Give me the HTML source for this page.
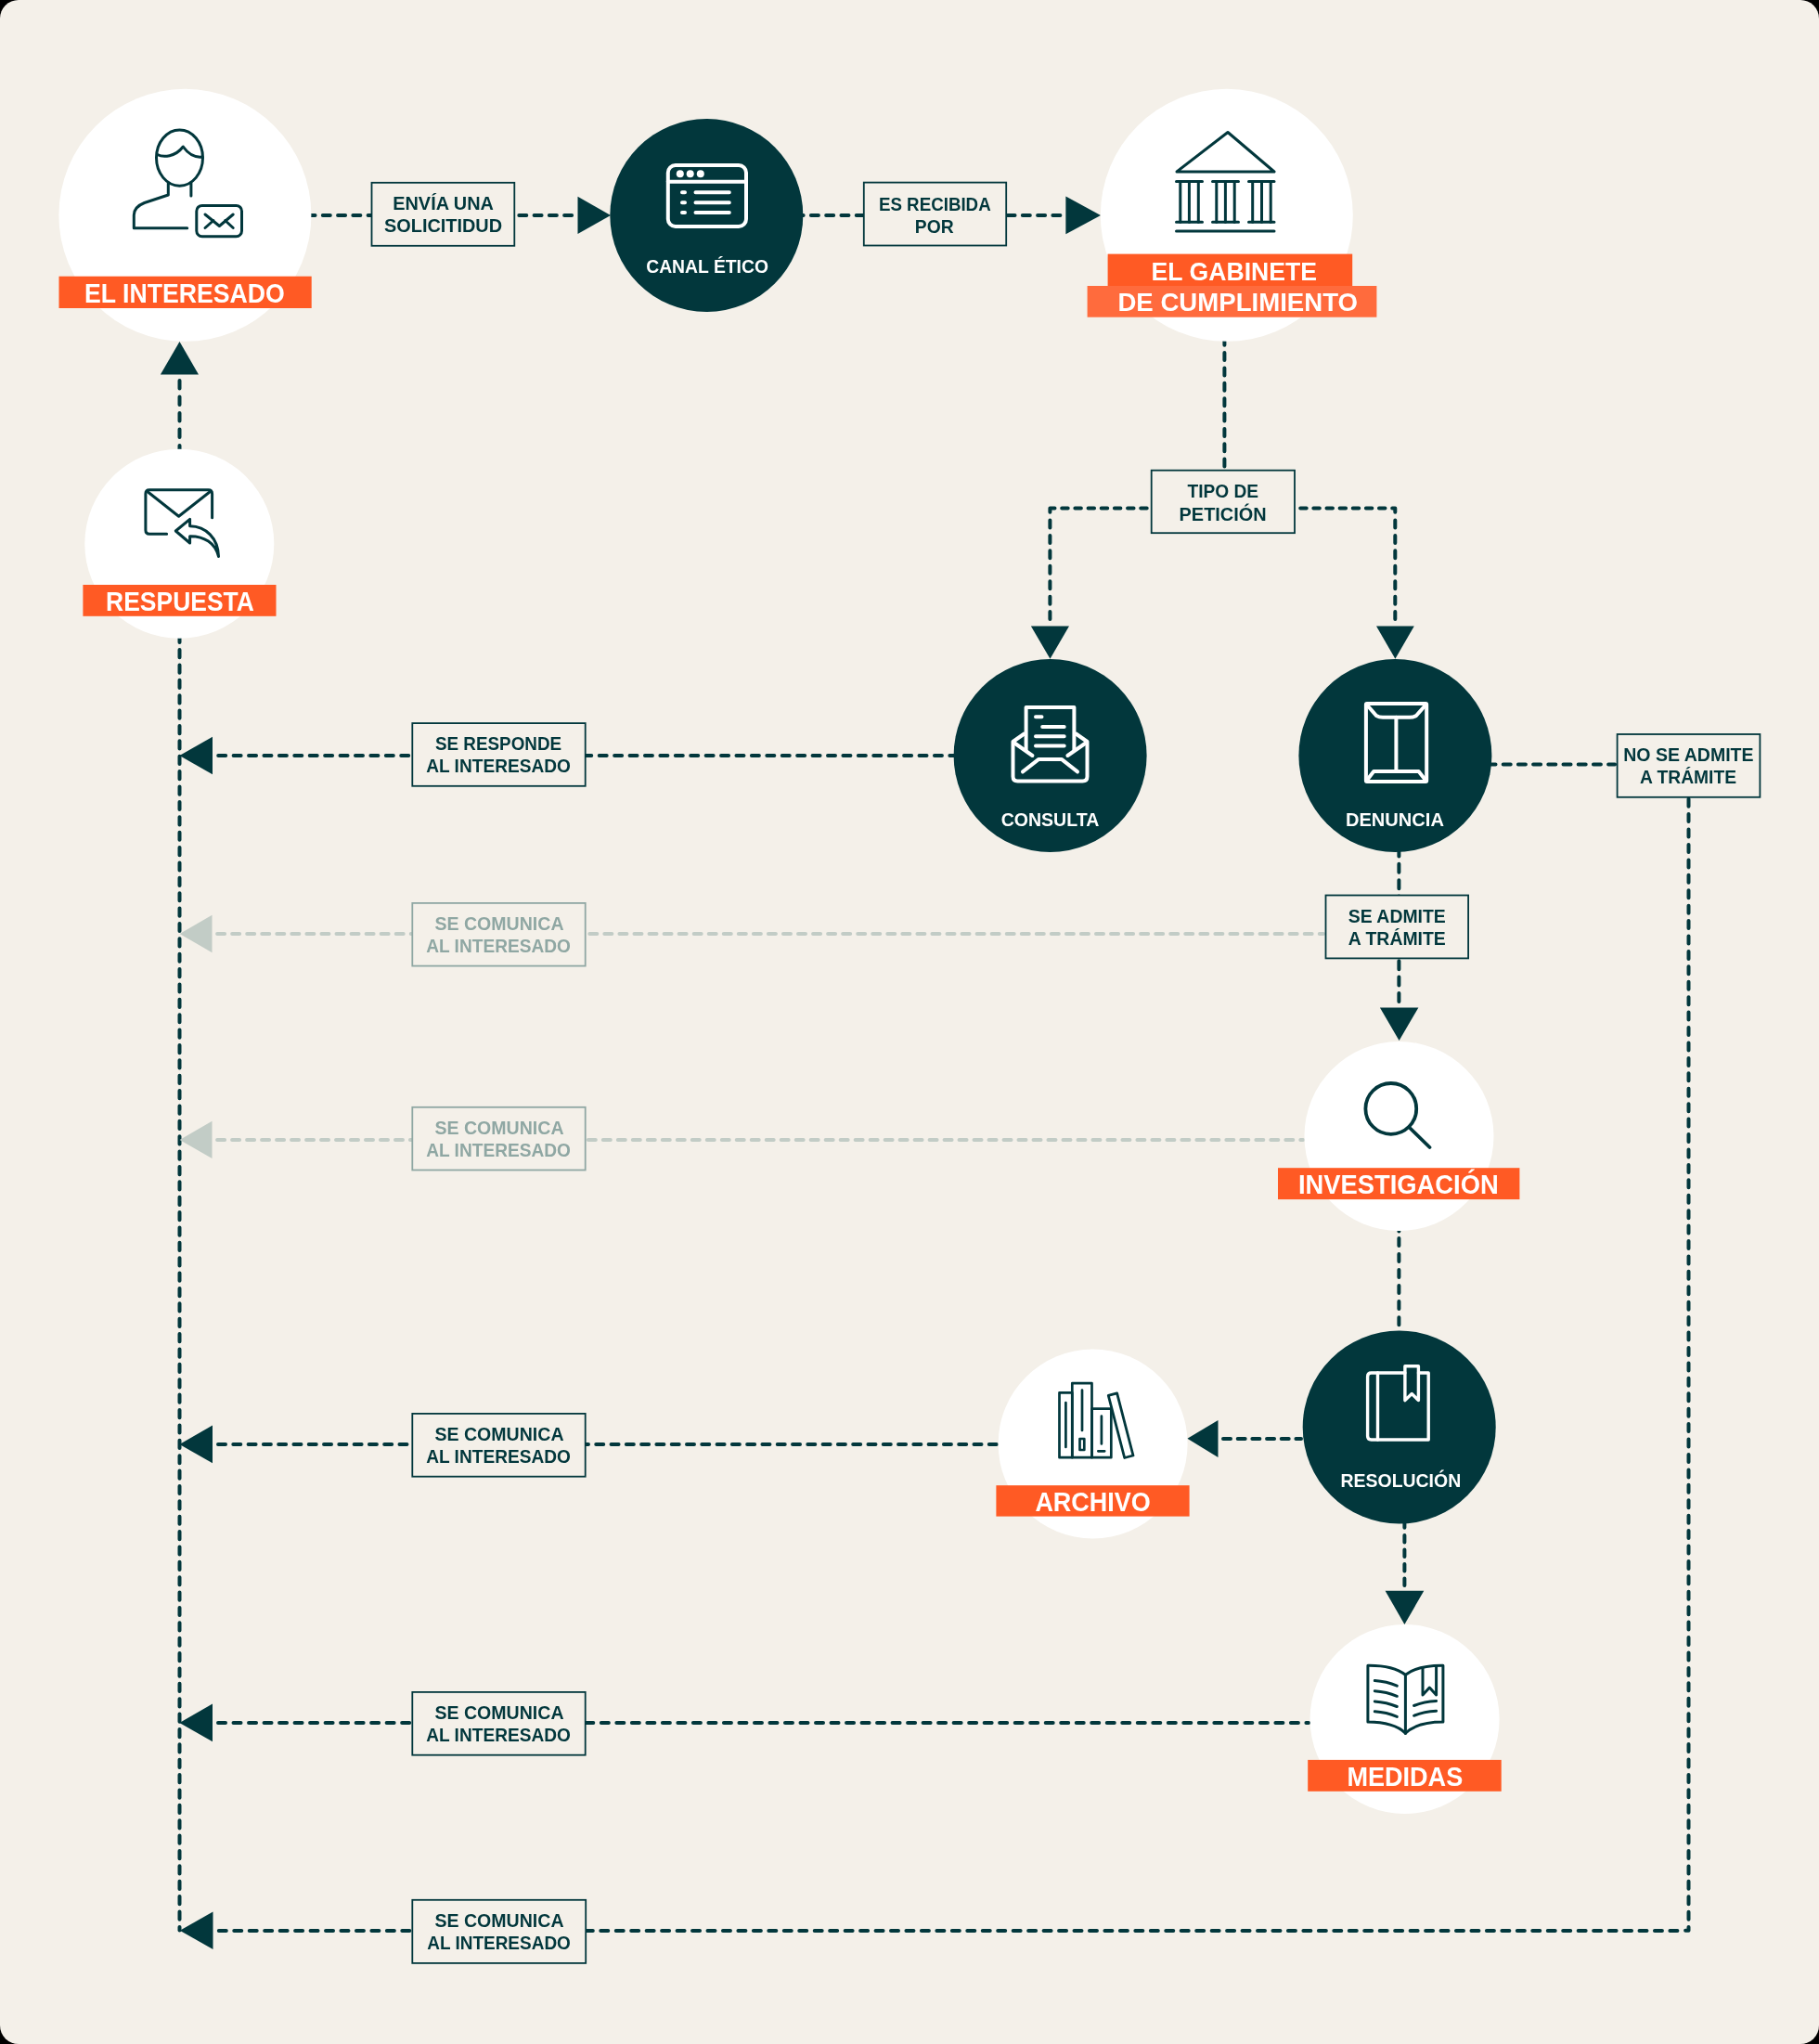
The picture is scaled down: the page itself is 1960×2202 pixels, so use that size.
<!DOCTYPE html>
<html><head><meta charset="utf-8"><style>
html,body{margin:0;padding:0;background:#000;}
#c{position:absolute;left:0;top:0;width:1960px;height:2202px;background:#F4F0E9;border-radius:20px;overflow:hidden;}
svg{position:absolute;left:0;top:0;will-change:transform;}
text{font-family:"Liberation Sans", sans-serif;font-weight:bold;}
</style></head><body><div id="c">
<svg width="1960" height="2202" viewBox="0 0 1960 2202">
<path d="M331.53,232 L339.53,232 M347.80,232 L355.80,232 M364.07,232 L372.07,232 M380.34,232 L388.34,232 M396.61,232 L404.61,232 M412.88,232 L420.88,232 M429.15,232 L437.15,232 M445.42,232 L453.42,232 M461.69,232 L469.69,232 M477.96,232 L485.96,232 M494.23,232 L502.23,232 M510.50,232 L518.50,232 M526.77,232 L534.77,232 M543.04,232 L551.04,232 M559.31,232 L567.31,232 M575.58,232 L583.58,232 M591.85,232 L599.85,232 M608.12,232 L616.12,232" fill="none" stroke="#02373C" stroke-width="4" stroke-linecap="round"/>
<polygon points="622.5,211.8 622.5,252 658,232" fill="#02373C"/>
<path d="M857.62,232 L865.62,232 M873.90,232 L881.90,232 M890.18,232 L898.18,232 M906.46,232 L914.46,232 M922.74,232 L930.74,232 M939.02,232 L947.02,232 M955.30,232 L963.30,232 M971.58,232 L979.58,232 M987.86,232 L995.86,232 M1004.14,232 L1012.14,232 M1020.42,232 L1028.42,232 M1036.70,232 L1044.70,232 M1052.98,232 L1060.98,232 M1069.26,232 L1077.26,232 M1085.54,232 L1093.54,232 M1101.82,232 L1109.82,232 M1118.10,232 L1126.10,232 M1134.38,232 L1142.38,232" fill="none" stroke="#02373C" stroke-width="4" stroke-linecap="round"/>
<polygon points="1148.4,211.5 1148.4,252.3 1186,232" fill="#02373C"/>
<path d="M1319.4,363.74 L1319.4,371.74 M1319.4,380.10 L1319.4,388.10 M1319.4,396.46 L1319.4,404.46 M1319.4,412.82 L1319.4,420.82 M1319.4,429.18 L1319.4,437.18 M1319.4,445.54 L1319.4,453.54 M1319.4,461.90 L1319.4,469.90 M1319.4,478.26 L1319.4,486.26 M1319.4,494.62 L1319.4,502.62" fill="none" stroke="#02373C" stroke-width="4" stroke-linecap="round"/>
<path d="M1144.20,547.5 L1150.70,547.5 M1158.37,547.5 L1164.87,547.5 M1172.54,547.5 L1179.04,547.5 M1186.71,547.5 L1193.21,547.5 M1200.88,547.5 L1207.38,547.5 M1215.05,547.5 L1221.55,547.5 M1229.22,547.5 L1235.72,547.5" fill="none" stroke="#02373C" stroke-width="4" stroke-linecap="round"/>
<path d="M1136.5,547.5 L1131.4,547.5 L1131.4,551.7" fill="none" stroke="#02373C" stroke-width="4" stroke-linecap="round" stroke-linejoin="round"/>
<path d="M1131.4,560.50 L1131.4,568.50 M1131.4,576.93 L1131.4,584.93 M1131.4,593.36 L1131.4,601.36 M1131.4,609.79 L1131.4,617.79 M1131.4,626.22 L1131.4,634.22 M1131.4,642.65 L1131.4,650.65 M1131.4,659.08 L1131.4,667.08" fill="none" stroke="#02373C" stroke-width="4" stroke-linecap="round"/>
<path d="M1401.20,547.5 L1407.70,547.5 M1415.33,547.5 L1421.83,547.5 M1429.46,547.5 L1435.96,547.5 M1443.59,547.5 L1450.09,547.5 M1457.72,547.5 L1464.22,547.5 M1471.85,547.5 L1478.35,547.5 M1485.98,547.5 L1492.48,547.5" fill="none" stroke="#02373C" stroke-width="4" stroke-linecap="round"/>
<path d="M1500.2,547.5 L1503.3,547.5 L1503.3,551.7" fill="none" stroke="#02373C" stroke-width="4" stroke-linecap="round" stroke-linejoin="round"/>
<path d="M1503.3,560.50 L1503.3,568.50 M1503.3,576.93 L1503.3,584.93 M1503.3,593.36 L1503.3,601.36 M1503.3,609.79 L1503.3,617.79 M1503.3,626.22 L1503.3,634.22 M1503.3,642.65 L1503.3,650.65 M1503.3,659.08 L1503.3,667.08" fill="none" stroke="#02373C" stroke-width="4" stroke-linecap="round"/>
<polygon points="1110.9,674.5 1152,674.5 1131.5,709.8" fill="#02373C"/>
<polygon points="1483,674.5 1523.8,674.5 1503.4,709.8" fill="#02373C"/>
<path d="M193.5,409.90 L193.5,418.40 M193.5,427.40 L193.5,435.90 M193.5,444.90 L193.5,453.40 M193.5,462.40 L193.5,470.90 M193.5,479.90 L193.5,488.00" fill="none" stroke="#02373C" stroke-width="4" stroke-linecap="round"/>
<polygon points="172.9,403.5 214,403.5 193.5,367.9" fill="#02373C"/>
<path d="M193.5,683.72 L193.5,691.92 M193.5,700.10 L193.5,708.30 M193.5,716.48 L193.5,724.68 M193.5,732.86 L193.5,741.06 M193.5,749.23 L193.5,757.43 M193.5,765.61 L193.5,773.81 M193.5,781.99 L193.5,790.19 M193.5,798.37 L193.5,806.57 M193.5,814.75 L193.5,822.95 M193.5,831.12 L193.5,839.32 M193.5,847.50 L193.5,855.70 M193.5,863.88 L193.5,872.08 M193.5,880.26 L193.5,888.46 M193.5,896.64 L193.5,904.84 M193.5,913.01 L193.5,921.21 M193.5,929.39 L193.5,937.59 M193.5,945.77 L193.5,953.97 M193.5,962.15 L193.5,970.35 M193.5,978.53 L193.5,986.73 M193.5,994.90 L193.5,1003.10 M193.5,1011.28 L193.5,1019.48 M193.5,1027.66 L193.5,1035.86 M193.5,1044.04 L193.5,1052.24 M193.5,1060.42 L193.5,1068.62 M193.5,1076.79 L193.5,1084.99 M193.5,1093.17 L193.5,1101.37 M193.5,1109.55 L193.5,1117.75 M193.5,1125.93 L193.5,1134.13 M193.5,1142.31 L193.5,1150.51 M193.5,1158.68 L193.5,1166.88 M193.5,1175.06 L193.5,1183.26 M193.5,1191.44 L193.5,1199.64 M193.5,1207.82 L193.5,1216.02 M193.5,1224.20 L193.5,1232.40 M193.5,1240.57 L193.5,1248.77 M193.5,1256.95 L193.5,1265.15 M193.5,1273.33 L193.5,1281.53 M193.5,1289.71 L193.5,1297.91 M193.5,1306.09 L193.5,1314.29 M193.5,1322.46 L193.5,1330.66 M193.5,1338.84 L193.5,1347.04 M193.5,1355.22 L193.5,1363.42 M193.5,1371.60 L193.5,1379.80 M193.5,1387.98 L193.5,1396.18 M193.5,1404.35 L193.5,1412.55 M193.5,1420.73 L193.5,1428.93 M193.5,1437.11 L193.5,1445.31 M193.5,1453.49 L193.5,1461.69 M193.5,1469.87 L193.5,1478.07 M193.5,1486.24 L193.5,1494.44 M193.5,1502.62 L193.5,1510.82 M193.5,1519.00 L193.5,1527.20 M193.5,1535.38 L193.5,1543.58 M193.5,1551.76 L193.5,1559.96 M193.5,1568.13 L193.5,1576.33 M193.5,1584.51 L193.5,1592.71 M193.5,1600.89 L193.5,1609.09 M193.5,1617.27 L193.5,1625.47 M193.5,1633.65 L193.5,1641.85 M193.5,1650.02 L193.5,1658.22 M193.5,1666.40 L193.5,1674.60 M193.5,1682.78 L193.5,1690.98 M193.5,1699.16 L193.5,1707.36 M193.5,1715.54 L193.5,1723.74 M193.5,1731.91 L193.5,1740.11 M193.5,1748.29 L193.5,1756.49 M193.5,1764.67 L193.5,1772.87 M193.5,1781.05 L193.5,1789.25 M193.5,1797.43 L193.5,1805.63 M193.5,1813.80 L193.5,1822.00 M193.5,1830.18 L193.5,1838.38 M193.5,1846.56 L193.5,1854.76 M193.5,1862.94 L193.5,1871.14 M193.5,1879.32 L193.5,1887.52 M193.5,1895.69 L193.5,1903.89 M193.5,1912.07 L193.5,1920.27 M193.5,1928.45 L193.5,1936.65 M193.5,1944.83 L193.5,1953.03 M193.5,1961.21 L193.5,1969.41 M193.5,1977.58 L193.5,1985.78 M193.5,1993.96 L193.5,2002.16 M193.5,2010.34 L193.5,2018.54 M193.5,2026.72 L193.5,2034.92 M193.5,2043.10 L193.5,2051.30 M193.5,2059.47 L193.5,2067.67" fill="none" stroke="#02373C" stroke-width="4" stroke-linecap="round"/>
<path d="M193.5,2075.9 L193.5,2079.4" fill="none" stroke="#02373C" stroke-width="4" stroke-linecap="round" stroke-linejoin="round"/>
<path d="M235.20,813.9 L243.20,813.9 M251.62,813.9 L259.62,813.9 M268.04,813.9 L276.04,813.9 M284.46,813.9 L292.46,813.9 M300.88,813.9 L308.88,813.9 M317.30,813.9 L325.30,813.9 M333.72,813.9 L341.72,813.9 M350.14,813.9 L358.14,813.9 M366.56,813.9 L374.56,813.9 M382.98,813.9 L390.98,813.9 M399.40,813.9 L407.40,813.9 M415.82,813.9 L423.82,813.9 M432.24,813.9 L440.24,813.9 M448.66,813.9 L456.66,813.9 M465.08,813.9 L473.08,813.9 M481.50,813.9 L489.50,813.9 M497.92,813.9 L505.92,813.9 M514.34,813.9 L522.34,813.9 M530.76,813.9 L538.76,813.9 M547.18,813.9 L555.18,813.9 M563.60,813.9 L571.60,813.9 M580.02,813.9 L588.02,813.9 M596.44,813.9 L604.44,813.9 M612.86,813.9 L620.86,813.9 M629.28,813.9 L637.28,813.9 M645.70,813.9 L653.70,813.9 M662.12,813.9 L670.12,813.9 M678.54,813.9 L686.54,813.9 M694.96,813.9 L702.96,813.9 M711.38,813.9 L719.38,813.9 M727.80,813.9 L735.80,813.9 M744.22,813.9 L752.22,813.9 M760.64,813.9 L768.64,813.9 M777.06,813.9 L785.06,813.9 M793.48,813.9 L801.48,813.9 M809.90,813.9 L817.90,813.9 M826.32,813.9 L834.32,813.9 M842.74,813.9 L850.74,813.9 M859.16,813.9 L867.16,813.9 M875.58,813.9 L883.58,813.9 M892.00,813.9 L900.00,813.9 M908.42,813.9 L916.42,813.9 M924.84,813.9 L932.84,813.9 M941.26,813.9 L949.26,813.9 M957.68,813.9 L965.68,813.9 M974.10,813.9 L982.10,813.9 M990.52,813.9 L998.52,813.9 M1006.94,813.9 L1014.94,813.9 M1023.36,813.9 L1028.00,813.9" fill="none" stroke="#02373C" stroke-width="4" stroke-linecap="round"/>
<polygon points="229,793.7 229,834.3 193.4,814" fill="#02373C"/>
<path d="M1607.00,823.5 L1611.50,823.5 M1619.70,823.5 L1627.70,823.5 M1635.90,823.5 L1643.90,823.5 M1652.10,823.5 L1660.10,823.5 M1668.30,823.5 L1676.30,823.5 M1684.50,823.5 L1692.50,823.5 M1700.70,823.5 L1708.70,823.5 M1716.90,823.5 L1724.90,823.5 M1733.10,823.5 L1740.00,823.5" fill="none" stroke="#02373C" stroke-width="4" stroke-linecap="round"/>
<path d="M1819.5,860.68 L1819.5,868.68 M1819.5,877.10 L1819.5,885.10 M1819.5,893.52 L1819.5,901.52 M1819.5,909.95 L1819.5,917.95 M1819.5,926.38 L1819.5,934.38 M1819.5,942.80 L1819.5,950.80 M1819.5,959.23 L1819.5,967.23 M1819.5,975.65 L1819.5,983.65 M1819.5,992.08 L1819.5,1000.08 M1819.5,1008.50 L1819.5,1016.50 M1819.5,1024.93 L1819.5,1032.93 M1819.5,1041.35 L1819.5,1049.35 M1819.5,1057.78 L1819.5,1065.78 M1819.5,1074.20 L1819.5,1082.20 M1819.5,1090.62 L1819.5,1098.62 M1819.5,1107.05 L1819.5,1115.05 M1819.5,1123.47 L1819.5,1131.47 M1819.5,1139.90 L1819.5,1147.90 M1819.5,1156.33 L1819.5,1164.33 M1819.5,1172.75 L1819.5,1180.75 M1819.5,1189.17 L1819.5,1197.17 M1819.5,1205.60 L1819.5,1213.60 M1819.5,1222.03 L1819.5,1230.03 M1819.5,1238.45 L1819.5,1246.45 M1819.5,1254.88 L1819.5,1262.88 M1819.5,1271.30 L1819.5,1279.30 M1819.5,1287.72 L1819.5,1295.72 M1819.5,1304.15 L1819.5,1312.15 M1819.5,1320.58 L1819.5,1328.58 M1819.5,1337.00 L1819.5,1345.00 M1819.5,1353.43 L1819.5,1361.43 M1819.5,1369.85 L1819.5,1377.85 M1819.5,1386.28 L1819.5,1394.28 M1819.5,1402.70 L1819.5,1410.70 M1819.5,1419.12 L1819.5,1427.12 M1819.5,1435.55 L1819.5,1443.55 M1819.5,1451.97 L1819.5,1459.97 M1819.5,1468.40 L1819.5,1476.40 M1819.5,1484.83 L1819.5,1492.83 M1819.5,1501.25 L1819.5,1509.25 M1819.5,1517.68 L1819.5,1525.68 M1819.5,1534.10 L1819.5,1542.10 M1819.5,1550.53 L1819.5,1558.53 M1819.5,1566.95 L1819.5,1574.95 M1819.5,1583.38 L1819.5,1591.38 M1819.5,1599.80 L1819.5,1607.80 M1819.5,1616.22 L1819.5,1624.22 M1819.5,1632.65 L1819.5,1640.65 M1819.5,1649.08 L1819.5,1657.08 M1819.5,1665.50 L1819.5,1673.50 M1819.5,1681.93 L1819.5,1689.93 M1819.5,1698.35 L1819.5,1706.35 M1819.5,1714.78 L1819.5,1722.78 M1819.5,1731.20 L1819.5,1739.20 M1819.5,1747.62 L1819.5,1755.62 M1819.5,1764.05 L1819.5,1772.05 M1819.5,1780.47 L1819.5,1788.47 M1819.5,1796.90 L1819.5,1804.90 M1819.5,1813.33 L1819.5,1821.33 M1819.5,1829.75 L1819.5,1837.75 M1819.5,1846.18 L1819.5,1854.18 M1819.5,1862.60 L1819.5,1870.60 M1819.5,1879.03 L1819.5,1887.03 M1819.5,1895.45 L1819.5,1903.45 M1819.5,1911.88 L1819.5,1919.88 M1819.5,1928.30 L1819.5,1936.30 M1819.5,1944.72 L1819.5,1952.72 M1819.5,1961.15 L1819.5,1969.15 M1819.5,1977.58 L1819.5,1985.58 M1819.5,1994.00 L1819.5,2002.00 M1819.5,2010.43 L1819.5,2018.43 M1819.5,2026.85 L1819.5,2034.85 M1819.5,2043.28 L1819.5,2051.28 M1819.5,2059.70 L1819.5,2067.70" fill="none" stroke="#02373C" stroke-width="4" stroke-linecap="round"/>
<path d="M1819.5,2075.9 L1819.5,2079.8 L1816.1,2079.8" fill="none" stroke="#02373C" stroke-width="4" stroke-linecap="round" stroke-linejoin="round"/>
<path d="M235.80,2079.9 L243.80,2079.9 M252.26,2079.9 L260.26,2079.9 M268.72,2079.9 L276.72,2079.9 M285.18,2079.9 L293.18,2079.9 M301.64,2079.9 L309.64,2079.9 M318.10,2079.9 L326.10,2079.9 M334.55,2079.9 L342.55,2079.9 M351.01,2079.9 L359.01,2079.9 M367.47,2079.9 L375.47,2079.9 M383.93,2079.9 L391.93,2079.9 M400.39,2079.9 L408.39,2079.9 M416.85,2079.9 L424.85,2079.9 M433.31,2079.9 L441.31,2079.9 M449.77,2079.9 L457.77,2079.9 M466.23,2079.9 L474.23,2079.9 M482.69,2079.9 L490.69,2079.9 M499.14,2079.9 L507.14,2079.9 M515.60,2079.9 L523.60,2079.9 M532.06,2079.9 L540.06,2079.9 M548.52,2079.9 L556.52,2079.9 M564.98,2079.9 L572.98,2079.9 M581.44,2079.9 L589.44,2079.9 M597.90,2079.9 L605.90,2079.9 M614.36,2079.9 L622.36,2079.9 M630.82,2079.9 L638.82,2079.9 M647.27,2079.9 L655.27,2079.9 M663.73,2079.9 L671.73,2079.9 M680.19,2079.9 L688.19,2079.9 M696.65,2079.9 L704.65,2079.9 M713.11,2079.9 L721.11,2079.9 M729.57,2079.9 L737.57,2079.9 M746.03,2079.9 L754.03,2079.9 M762.49,2079.9 L770.49,2079.9 M778.95,2079.9 L786.95,2079.9 M795.41,2079.9 L803.41,2079.9 M811.87,2079.9 L819.87,2079.9 M828.32,2079.9 L836.32,2079.9 M844.78,2079.9 L852.78,2079.9 M861.24,2079.9 L869.24,2079.9 M877.70,2079.9 L885.70,2079.9 M894.16,2079.9 L902.16,2079.9 M910.62,2079.9 L918.62,2079.9 M927.08,2079.9 L935.08,2079.9 M943.54,2079.9 L951.54,2079.9 M960.00,2079.9 L968.00,2079.9 M976.45,2079.9 L984.45,2079.9 M992.91,2079.9 L1000.91,2079.9 M1009.37,2079.9 L1017.37,2079.9 M1025.83,2079.9 L1033.83,2079.9 M1042.29,2079.9 L1050.29,2079.9 M1058.75,2079.9 L1066.75,2079.9 M1075.21,2079.9 L1083.21,2079.9 M1091.67,2079.9 L1099.67,2079.9 M1108.13,2079.9 L1116.13,2079.9 M1124.59,2079.9 L1132.59,2079.9 M1141.05,2079.9 L1149.05,2079.9 M1157.50,2079.9 L1165.50,2079.9 M1173.96,2079.9 L1181.96,2079.9 M1190.42,2079.9 L1198.42,2079.9 M1206.88,2079.9 L1214.88,2079.9 M1223.34,2079.9 L1231.34,2079.9 M1239.80,2079.9 L1247.80,2079.9 M1256.26,2079.9 L1264.26,2079.9 M1272.72,2079.9 L1280.72,2079.9 M1289.18,2079.9 L1297.18,2079.9 M1305.63,2079.9 L1313.63,2079.9 M1322.09,2079.9 L1330.09,2079.9 M1338.55,2079.9 L1346.55,2079.9 M1355.01,2079.9 L1363.01,2079.9 M1371.47,2079.9 L1379.47,2079.9 M1387.93,2079.9 L1395.93,2079.9 M1404.39,2079.9 L1412.39,2079.9 M1420.85,2079.9 L1428.85,2079.9 M1437.31,2079.9 L1445.31,2079.9 M1453.77,2079.9 L1461.77,2079.9 M1470.22,2079.9 L1478.22,2079.9 M1486.68,2079.9 L1494.68,2079.9 M1503.14,2079.9 L1511.14,2079.9 M1519.60,2079.9 L1527.60,2079.9 M1536.06,2079.9 L1544.06,2079.9 M1552.52,2079.9 L1560.52,2079.9 M1568.98,2079.9 L1576.98,2079.9 M1585.44,2079.9 L1593.44,2079.9 M1601.90,2079.9 L1609.90,2079.9 M1618.36,2079.9 L1626.36,2079.9 M1634.81,2079.9 L1642.81,2079.9 M1651.27,2079.9 L1659.27,2079.9 M1667.73,2079.9 L1675.73,2079.9 M1684.19,2079.9 L1692.19,2079.9 M1700.65,2079.9 L1708.65,2079.9 M1717.11,2079.9 L1725.11,2079.9 M1733.57,2079.9 L1741.57,2079.9 M1750.03,2079.9 L1758.03,2079.9 M1766.49,2079.9 L1774.49,2079.9 M1782.95,2079.9 L1790.95,2079.9 M1799.40,2079.9 L1807.40,2079.9" fill="none" stroke="#02373C" stroke-width="4" stroke-linecap="round"/>
<polygon points="229.5,2059.5 229.5,2100.1 193.8,2079.8" fill="#02373C"/>
<path d="M1507.4,913.41 L1507.4,922.41 M1507.4,930.80 L1507.4,939.80 M1507.4,948.19 L1507.4,957.19 M1507.4,965.58 L1507.4,974.58 M1507.4,982.97 L1507.4,991.97 M1507.4,1000.36 L1507.4,1009.36 M1507.4,1017.75 L1507.4,1026.75 M1507.4,1035.14 L1507.4,1044.14 M1507.4,1052.53 L1507.4,1061.53 M1507.4,1069.92 L1507.4,1078.92" fill="none" stroke="#02373C" stroke-width="4" stroke-linecap="round"/>
<polygon points="1486.9,1085.5 1528.4,1085.5 1507.6,1121.1" fill="#02373C"/>
<path d="M234.10,1006 L242.10,1006 M250.15,1006 L258.15,1006 M266.20,1006 L274.20,1006 M282.25,1006 L290.25,1006 M298.30,1006 L306.30,1006 M314.35,1006 L322.35,1006 M330.39,1006 L338.39,1006 M346.44,1006 L354.44,1006 M362.49,1006 L370.49,1006 M378.54,1006 L386.54,1006 M394.59,1006 L402.59,1006 M410.64,1006 L418.64,1006 M426.69,1006 L434.69,1006 M442.74,1006 L450.74,1006 M458.79,1006 L466.79,1006 M474.83,1006 L482.83,1006 M490.88,1006 L498.88,1006 M506.93,1006 L514.93,1006 M522.98,1006 L530.98,1006 M539.03,1006 L547.03,1006 M555.08,1006 L563.08,1006 M571.13,1006 L579.13,1006 M587.18,1006 L595.18,1006 M603.23,1006 L611.23,1006 M619.28,1006 L627.28,1006 M635.32,1006 L643.32,1006 M651.37,1006 L659.37,1006 M667.42,1006 L675.42,1006 M683.47,1006 L691.47,1006 M699.52,1006 L707.52,1006 M715.57,1006 L723.57,1006 M731.62,1006 L739.62,1006 M747.67,1006 L755.67,1006 M763.72,1006 L771.72,1006 M779.77,1006 L787.77,1006 M795.82,1006 L803.82,1006 M811.86,1006 L819.86,1006 M827.91,1006 L835.91,1006 M843.96,1006 L851.96,1006 M860.01,1006 L868.01,1006 M876.06,1006 L884.06,1006 M892.11,1006 L900.11,1006 M908.16,1006 L916.16,1006 M924.21,1006 L932.21,1006 M940.26,1006 L948.26,1006 M956.30,1006 L964.30,1006 M972.35,1006 L980.35,1006 M988.40,1006 L996.40,1006 M1004.45,1006 L1012.45,1006 M1020.50,1006 L1028.50,1006 M1036.55,1006 L1044.55,1006 M1052.60,1006 L1060.60,1006 M1068.65,1006 L1076.65,1006 M1084.70,1006 L1092.70,1006 M1100.75,1006 L1108.75,1006 M1116.79,1006 L1124.79,1006 M1132.84,1006 L1140.84,1006 M1148.89,1006 L1156.89,1006 M1164.94,1006 L1172.94,1006 M1180.99,1006 L1188.99,1006 M1197.04,1006 L1205.04,1006 M1213.09,1006 L1221.09,1006 M1229.14,1006 L1237.14,1006 M1245.19,1006 L1253.19,1006 M1261.24,1006 L1269.24,1006 M1277.28,1006 L1285.28,1006 M1293.33,1006 L1301.33,1006 M1309.38,1006 L1317.38,1006 M1325.43,1006 L1333.43,1006 M1341.48,1006 L1349.48,1006 M1357.53,1006 L1365.53,1006 M1373.58,1006 L1381.58,1006 M1389.63,1006 L1397.63,1006 M1405.68,1006 L1413.68,1006 M1421.73,1006 L1426.00,1006" fill="none" stroke="#C2CCC6" stroke-width="4" stroke-linecap="round"/>
<polygon points="228.5,985.8 228.5,1026.2 193.6,1006" fill="#C2CCC6"/>
<path d="M234.10,1227.9 L242.10,1227.9 M250.09,1227.9 L258.09,1227.9 M266.08,1227.9 L274.08,1227.9 M282.07,1227.9 L290.07,1227.9 M298.06,1227.9 L306.06,1227.9 M314.05,1227.9 L322.05,1227.9 M330.03,1227.9 L338.03,1227.9 M346.02,1227.9 L354.02,1227.9 M362.01,1227.9 L370.01,1227.9 M378.00,1227.9 L386.00,1227.9 M393.99,1227.9 L401.99,1227.9 M409.98,1227.9 L417.98,1227.9 M425.97,1227.9 L433.97,1227.9 M441.96,1227.9 L449.96,1227.9 M457.95,1227.9 L465.95,1227.9 M473.94,1227.9 L481.94,1227.9 M489.92,1227.9 L497.92,1227.9 M505.91,1227.9 L513.91,1227.9 M521.90,1227.9 L529.90,1227.9 M537.89,1227.9 L545.89,1227.9 M553.88,1227.9 L561.88,1227.9 M569.87,1227.9 L577.87,1227.9 M585.86,1227.9 L593.86,1227.9 M601.85,1227.9 L609.85,1227.9 M617.84,1227.9 L625.84,1227.9 M633.83,1227.9 L641.83,1227.9 M649.81,1227.9 L657.81,1227.9 M665.80,1227.9 L673.80,1227.9 M681.79,1227.9 L689.79,1227.9 M697.78,1227.9 L705.78,1227.9 M713.77,1227.9 L721.77,1227.9 M729.76,1227.9 L737.76,1227.9 M745.75,1227.9 L753.75,1227.9 M761.74,1227.9 L769.74,1227.9 M777.73,1227.9 L785.73,1227.9 M793.72,1227.9 L801.72,1227.9 M809.70,1227.9 L817.70,1227.9 M825.69,1227.9 L833.69,1227.9 M841.68,1227.9 L849.68,1227.9 M857.67,1227.9 L865.67,1227.9 M873.66,1227.9 L881.66,1227.9 M889.65,1227.9 L897.65,1227.9 M905.64,1227.9 L913.64,1227.9 M921.63,1227.9 L929.63,1227.9 M937.62,1227.9 L945.62,1227.9 M953.61,1227.9 L961.61,1227.9 M969.59,1227.9 L977.59,1227.9 M985.58,1227.9 L993.58,1227.9 M1001.57,1227.9 L1009.57,1227.9 M1017.56,1227.9 L1025.56,1227.9 M1033.55,1227.9 L1041.55,1227.9 M1049.54,1227.9 L1057.54,1227.9 M1065.53,1227.9 L1073.53,1227.9 M1081.52,1227.9 L1089.52,1227.9 M1097.51,1227.9 L1105.51,1227.9 M1113.50,1227.9 L1121.50,1227.9 M1129.48,1227.9 L1137.48,1227.9 M1145.47,1227.9 L1153.47,1227.9 M1161.46,1227.9 L1169.46,1227.9 M1177.45,1227.9 L1185.45,1227.9 M1193.44,1227.9 L1201.44,1227.9 M1209.43,1227.9 L1217.43,1227.9 M1225.42,1227.9 L1233.42,1227.9 M1241.41,1227.9 L1249.41,1227.9 M1257.40,1227.9 L1265.40,1227.9 M1273.38,1227.9 L1281.38,1227.9 M1289.37,1227.9 L1297.37,1227.9 M1305.36,1227.9 L1313.36,1227.9 M1321.35,1227.9 L1329.35,1227.9 M1337.34,1227.9 L1345.34,1227.9 M1353.33,1227.9 L1361.33,1227.9 M1369.32,1227.9 L1377.32,1227.9 M1385.31,1227.9 L1393.31,1227.9 M1401.30,1227.9 L1404.00,1227.9" fill="none" stroke="#C2CCC6" stroke-width="4" stroke-linecap="round"/>
<polygon points="228.5,1207.7 228.5,1248.1 193.6,1227.9" fill="#C2CCC6"/>
<path d="M1507.4,1326.49 L1507.4,1326.49 M1507.4,1334.00 L1507.4,1342.00 M1507.4,1351.03 L1507.4,1359.03 M1507.4,1368.06 L1507.4,1376.06 M1507.4,1385.09 L1507.4,1393.09 M1507.4,1402.12 L1507.4,1410.12 M1507.4,1419.15 L1507.4,1427.15" fill="none" stroke="#02373C" stroke-width="4" stroke-linecap="round"/>
<path d="M1318.00,1549.9 L1326.00,1549.9 M1333.68,1549.9 L1341.68,1549.9 M1349.36,1549.9 L1357.36,1549.9 M1365.04,1549.9 L1373.04,1549.9 M1380.72,1549.9 L1388.72,1549.9 M1396.40,1549.9 L1402.00,1549.9" fill="none" stroke="#02373C" stroke-width="4" stroke-linecap="round"/>
<polygon points="1312.5,1530 1312.5,1569.9 1279.4,1549.8" fill="#02373C"/>
<path d="M235.00,1555.9 L243.00,1555.9 M251.29,1555.9 L259.29,1555.9 M267.58,1555.9 L275.58,1555.9 M283.87,1555.9 L291.87,1555.9 M300.16,1555.9 L308.16,1555.9 M316.45,1555.9 L324.45,1555.9 M332.74,1555.9 L340.74,1555.9 M349.03,1555.9 L357.03,1555.9 M365.32,1555.9 L373.32,1555.9 M381.61,1555.9 L389.61,1555.9 M397.90,1555.9 L405.90,1555.9 M414.19,1555.9 L422.19,1555.9 M430.48,1555.9 L438.48,1555.9 M446.77,1555.9 L454.77,1555.9 M463.06,1555.9 L471.06,1555.9 M479.35,1555.9 L487.35,1555.9 M495.64,1555.9 L503.64,1555.9 M511.93,1555.9 L519.93,1555.9 M528.22,1555.9 L536.22,1555.9 M544.51,1555.9 L552.51,1555.9 M560.80,1555.9 L568.80,1555.9 M577.09,1555.9 L585.09,1555.9 M593.38,1555.9 L601.38,1555.9 M609.67,1555.9 L617.67,1555.9 M625.96,1555.9 L633.96,1555.9 M642.25,1555.9 L650.25,1555.9 M658.54,1555.9 L666.54,1555.9 M674.83,1555.9 L682.83,1555.9 M691.12,1555.9 L699.12,1555.9 M707.41,1555.9 L715.41,1555.9 M723.70,1555.9 L731.70,1555.9 M739.99,1555.9 L747.99,1555.9 M756.28,1555.9 L764.28,1555.9 M772.57,1555.9 L780.57,1555.9 M788.86,1555.9 L796.86,1555.9 M805.15,1555.9 L813.15,1555.9 M821.44,1555.9 L829.44,1555.9 M837.73,1555.9 L845.73,1555.9 M854.02,1555.9 L862.02,1555.9 M870.31,1555.9 L878.31,1555.9 M886.60,1555.9 L894.60,1555.9 M902.89,1555.9 L910.89,1555.9 M919.18,1555.9 L927.18,1555.9 M935.47,1555.9 L943.47,1555.9 M951.76,1555.9 L959.76,1555.9 M968.05,1555.9 L976.05,1555.9 M984.34,1555.9 L992.34,1555.9 M1000.63,1555.9 L1008.63,1555.9 M1016.92,1555.9 L1024.92,1555.9 M1033.21,1555.9 L1041.21,1555.9 M1049.50,1555.9 L1057.50,1555.9 M1065.79,1555.9 L1073.79,1555.9" fill="none" stroke="#02373C" stroke-width="4" stroke-linecap="round"/>
<polygon points="229,1535.6 229,1576.2 193.4,1555.9" fill="#02373C"/>
<path d="M1513.4,1638.35 L1513.4,1645.85 M1513.4,1653.90 L1513.4,1661.40 M1513.4,1669.45 L1513.4,1676.95 M1513.4,1685.00 L1513.4,1692.50 M1513.4,1700.55 L1513.4,1708.05" fill="none" stroke="#02373C" stroke-width="4" stroke-linecap="round"/>
<polygon points="1492.6,1713.8 1534.3,1713.8 1513.4,1749.9" fill="#02373C"/>
<path d="M235.00,1855.9 L243.00,1855.9 M251.51,1855.9 L259.51,1855.9 M268.03,1855.9 L276.03,1855.9 M284.54,1855.9 L292.54,1855.9 M301.05,1855.9 L309.05,1855.9 M317.56,1855.9 L325.56,1855.9 M334.08,1855.9 L342.08,1855.9 M350.59,1855.9 L358.59,1855.9 M367.10,1855.9 L375.10,1855.9 M383.62,1855.9 L391.62,1855.9 M400.13,1855.9 L408.13,1855.9 M416.64,1855.9 L424.64,1855.9 M433.16,1855.9 L441.16,1855.9 M449.67,1855.9 L457.67,1855.9 M466.18,1855.9 L474.18,1855.9 M482.70,1855.9 L490.70,1855.9 M499.21,1855.9 L507.21,1855.9 M515.72,1855.9 L523.72,1855.9 M532.23,1855.9 L540.23,1855.9 M548.75,1855.9 L556.75,1855.9 M565.26,1855.9 L573.26,1855.9 M581.77,1855.9 L589.77,1855.9 M598.29,1855.9 L606.29,1855.9 M614.80,1855.9 L622.80,1855.9 M631.31,1855.9 L639.31,1855.9 M647.83,1855.9 L655.83,1855.9 M664.34,1855.9 L672.34,1855.9 M680.85,1855.9 L688.85,1855.9 M697.36,1855.9 L705.36,1855.9 M713.88,1855.9 L721.88,1855.9 M730.39,1855.9 L738.39,1855.9 M746.90,1855.9 L754.90,1855.9 M763.42,1855.9 L771.42,1855.9 M779.93,1855.9 L787.93,1855.9 M796.44,1855.9 L804.44,1855.9 M812.96,1855.9 L820.96,1855.9 M829.47,1855.9 L837.47,1855.9 M845.98,1855.9 L853.98,1855.9 M862.49,1855.9 L870.49,1855.9 M879.01,1855.9 L887.01,1855.9 M895.52,1855.9 L903.52,1855.9 M912.03,1855.9 L920.03,1855.9 M928.55,1855.9 L936.55,1855.9 M945.06,1855.9 L953.06,1855.9 M961.57,1855.9 L969.57,1855.9 M978.09,1855.9 L986.09,1855.9 M994.60,1855.9 L1002.60,1855.9 M1011.11,1855.9 L1019.11,1855.9 M1027.62,1855.9 L1035.62,1855.9 M1044.14,1855.9 L1052.14,1855.9 M1060.65,1855.9 L1068.65,1855.9 M1077.16,1855.9 L1085.16,1855.9 M1093.68,1855.9 L1101.68,1855.9 M1110.19,1855.9 L1118.19,1855.9 M1126.70,1855.9 L1134.70,1855.9 M1143.22,1855.9 L1151.22,1855.9 M1159.73,1855.9 L1167.73,1855.9 M1176.24,1855.9 L1184.24,1855.9 M1192.75,1855.9 L1200.75,1855.9 M1209.27,1855.9 L1217.27,1855.9 M1225.78,1855.9 L1233.78,1855.9 M1242.29,1855.9 L1250.29,1855.9 M1258.81,1855.9 L1266.81,1855.9 M1275.32,1855.9 L1283.32,1855.9 M1291.83,1855.9 L1299.83,1855.9 M1308.35,1855.9 L1316.35,1855.9 M1324.86,1855.9 L1332.86,1855.9 M1341.37,1855.9 L1349.37,1855.9 M1357.88,1855.9 L1365.88,1855.9 M1374.40,1855.9 L1382.40,1855.9 M1390.91,1855.9 L1398.91,1855.9 M1407.42,1855.9 L1410.00,1855.9" fill="none" stroke="#02373C" stroke-width="4" stroke-linecap="round"/>
<polygon points="229,1835.6 229,1876.2 193.4,1855.9" fill="#02373C"/>
<rect x="400.50" y="196.80" width="153.80" height="68.00" fill="#F4F0E9" stroke="#02373C" stroke-width="1.8"/>
<rect x="930.80" y="196.60" width="153.40" height="67.90" fill="#F4F0E9" stroke="#02373C" stroke-width="1.8"/>
<rect x="1240.70" y="506.70" width="154.30" height="67.50" fill="#F4F0E9" stroke="#02373C" stroke-width="1.8"/>
<rect x="444.30" y="779.10" width="186.40" height="67.70" fill="#F4F0E9" stroke="#02373C" stroke-width="1.8"/>
<rect x="444.30" y="972.90" width="186.40" height="67.70" fill="#F4F0E9" stroke="#8FA7A3" stroke-width="1.8"/>
<rect x="1428.50" y="964.50" width="153.60" height="67.90" fill="#F4F0E9" stroke="#02373C" stroke-width="1.8"/>
<rect x="1742.60" y="791.00" width="153.80" height="67.80" fill="#F4F0E9" stroke="#02373C" stroke-width="1.8"/>
<rect x="444.30" y="1192.80" width="186.40" height="67.70" fill="#F4F0E9" stroke="#8FA7A3" stroke-width="1.8"/>
<rect x="444.30" y="1522.90" width="186.40" height="67.80" fill="#F4F0E9" stroke="#02373C" stroke-width="1.8"/>
<rect x="444.30" y="1822.90" width="186.40" height="67.80" fill="#F4F0E9" stroke="#02373C" stroke-width="1.8"/>
<rect x="444.30" y="2046.80" width="186.90" height="68.10" fill="#F4F0E9" stroke="#02373C" stroke-width="1.8"/>
<circle cx="199.4" cy="231.8" r="136" fill="#FFFFFF"/>
<rect x="63.5" y="297.7" width="272.20" height="34.30" fill="#FF5A24"/>
<circle cx="761.3" cy="232" r="104" fill="#02373C"/>
<circle cx="1321.8" cy="231.8" r="136" fill="#FFFFFF"/>
<rect x="1193.6" y="273.6" width="263.60" height="34.40" fill="#FF5A24"/>
<rect x="1171.6" y="308" width="311.80" height="33.70" fill="#FF6B3D"/>
<circle cx="193.3" cy="585.8" r="102" fill="#FFFFFF"/>
<rect x="89.4" y="630" width="208.10" height="33.80" fill="#FF5A24"/>
<circle cx="1131.6" cy="814" r="104" fill="#02373C"/>
<circle cx="1503.4" cy="814" r="104" fill="#02373C"/>
<circle cx="1507.5" cy="1224" r="102" fill="#FFFFFF"/>
<rect x="1377" y="1258.2" width="260.40" height="33.90" fill="#FF5A24"/>
<circle cx="1507.7" cy="1537.5" r="104" fill="#02373C"/>
<circle cx="1177.6" cy="1555.5" r="102" fill="#FFFFFF"/>
<rect x="1073.4" y="1600.2" width="208.20" height="33.40" fill="#FF5A24"/>
<circle cx="1513.6" cy="1852" r="102" fill="#FFFFFF"/>
<rect x="1409.2" y="1895.9" width="208.50" height="33.90" fill="#FF5A24"/>
<ellipse cx="193.5" cy="170.1" rx="25" ry="30.1" fill="none" stroke="#02373C" stroke-width="3"/>
<path d="M169.5,166.5 C176,170 189,169 197.3,158 C203,166 210,170 218,169" fill="none" stroke="#02373C" stroke-width="3" stroke-linecap="round" stroke-linejoin="round" />
<path d="M181.3,197 L181.3,210 L155.6,218.5 Q144.3,223 144.3,231.7 L144.3,245.8 L201.7,245.8" fill="none" stroke="#02373C" stroke-width="3" stroke-linecap="round" stroke-linejoin="round" />
<path d="M205.9,197 L205.9,211" fill="none" stroke="#02373C" stroke-width="3" stroke-linecap="round" stroke-linejoin="round" />
<rect x="211.8" y="221.4" width="48.7" height="33.3" rx="6" fill="none" stroke="#02373C" stroke-width="3"/>
<path d="M221,231 L236.4,243.5 L251.2,231 M221,245.5 L230,237.5 M251.2,245.5 L242.6,237.5" fill="none" stroke="#02373C" stroke-width="3" stroke-linecap="round" stroke-linejoin="round" />
<rect x="719.8" y="178" width="84.2" height="65.9" rx="8" fill="none" stroke="#FFFFFF" stroke-width="4"/>
<path d="M719.8,195.8 L804,195.8" fill="none" stroke="#FFFFFF" stroke-width="4" stroke-linecap="round" stroke-linejoin="round" />
<circle cx="732.8" cy="187.2" r="4" fill="#FFFFFF"/>
<circle cx="743.7" cy="187.2" r="4" fill="#FFFFFF"/>
<circle cx="754.8" cy="187.2" r="4" fill="#FFFFFF"/>
<path d="M735,207.2 L738,207.2 M749.5,207.2 L785.8,207.2" fill="none" stroke="#FFFFFF" stroke-width="4" stroke-linecap="round" stroke-linejoin="round" />
<path d="M735,218.2 L738,218.2 M749.5,218.2 L785.8,218.2" fill="none" stroke="#FFFFFF" stroke-width="4" stroke-linecap="round" stroke-linejoin="round" />
<path d="M735,229.1 L738,229.1 M749.5,229.1 L785.8,229.1" fill="none" stroke="#FFFFFF" stroke-width="4" stroke-linecap="round" stroke-linejoin="round" />
<path d="M1268,185 L1323,142.5 L1373,185 Z" fill="none" stroke="#02373C" stroke-width="3" stroke-linecap="round" stroke-linejoin="round" />
<path d="M1267.5,195.4 L1295.5,195.4 M1267.5,239.2 L1295.5,239.2" fill="none" stroke="#02373C" stroke-width="3" stroke-linecap="round" stroke-linejoin="round" />
<path d="M1306.5,195.4 L1334.5,195.4 M1306.5,239.2 L1334.5,239.2" fill="none" stroke="#02373C" stroke-width="3" stroke-linecap="round" stroke-linejoin="round" />
<path d="M1345.5,195.4 L1373,195.4 M1345.5,239.2 L1373,239.2" fill="none" stroke="#02373C" stroke-width="3" stroke-linecap="round" stroke-linejoin="round" />
<path d="M1267.5,248.9 L1373,248.9" fill="none" stroke="#02373C" stroke-width="3" stroke-linecap="round" stroke-linejoin="round" />
<path d="M1271.8,195.4 L1271.8,239.2" fill="none" stroke="#02373C" stroke-width="3" stroke-linecap="round" stroke-linejoin="round" />
<path d="M1281.4,195.4 L1281.4,239.2" fill="none" stroke="#02373C" stroke-width="3" stroke-linecap="round" stroke-linejoin="round" />
<path d="M1291.3,195.4 L1291.3,239.2" fill="none" stroke="#02373C" stroke-width="3" stroke-linecap="round" stroke-linejoin="round" />
<path d="M1310.8,195.4 L1310.8,239.2" fill="none" stroke="#02373C" stroke-width="3" stroke-linecap="round" stroke-linejoin="round" />
<path d="M1320.4,195.4 L1320.4,239.2" fill="none" stroke="#02373C" stroke-width="3" stroke-linecap="round" stroke-linejoin="round" />
<path d="M1330.2,195.4 L1330.2,239.2" fill="none" stroke="#02373C" stroke-width="3" stroke-linecap="round" stroke-linejoin="round" />
<path d="M1349.7,195.4 L1349.7,239.2" fill="none" stroke="#02373C" stroke-width="3" stroke-linecap="round" stroke-linejoin="round" />
<path d="M1359.5,195.4 L1359.5,239.2" fill="none" stroke="#02373C" stroke-width="3" stroke-linecap="round" stroke-linejoin="round" />
<path d="M1369.2,195.4 L1369.2,239.2" fill="none" stroke="#02373C" stroke-width="3" stroke-linecap="round" stroke-linejoin="round" />
<path d="M179.6,575.3 L161,575.3 Q156.9,575.3 156.9,571 L156.9,532 Q156.9,527.8 161,527.8 L224.5,527.8 Q228.6,527.8 228.6,532 L228.6,557.8" fill="none" stroke="#02373C" stroke-width="3" stroke-linecap="round" stroke-linejoin="round" />
<path d="M159.4,530 L192.6,556.3 L225.9,530" fill="none" stroke="#02373C" stroke-width="3" stroke-linecap="round" stroke-linejoin="round" />
<path d="M204.6,559.3 L189.3,572 L204.6,585 L204.6,577.7 C220,577.5 232,585 235.5,599.5 C235,580 222,567 204.6,566.8 Z" fill="none" stroke="#02373C" stroke-width="3" stroke-linecap="round" stroke-linejoin="round" />
<path d="M1105.6,808 L1105.6,762 L1157.4,762 L1157.4,808" fill="none" stroke="#FFFFFF" stroke-width="4" stroke-linecap="round" stroke-linejoin="round" />
<path d="M1103.6,790.5 L1091.5,799 L1091.5,836.5 Q1091.5,841.5 1096.5,841.5 L1166.5,841.5 Q1171.5,841.5 1171.5,836.5 L1171.5,799 L1159.4,790.5" fill="none" stroke="#FFFFFF" stroke-width="4" stroke-linecap="round" stroke-linejoin="round" />
<path d="M1092.5,800 L1112.4,814 M1170.5,800 L1150.4,814" fill="none" stroke="#FFFFFF" stroke-width="4" stroke-linecap="round" stroke-linejoin="round" />
<path d="M1102,831.4 L1119.3,817.9 L1143.8,817.9 L1161,831.4" fill="none" stroke="#FFFFFF" stroke-width="4" stroke-linecap="round" stroke-linejoin="round" />
<path d="M1116,772.3 L1122.5,772.3 M1123.2,783 L1146.7,783 M1116,793.2 L1146.7,793.2 M1116,803.6 L1146.7,803.6" fill="none" stroke="#FFFFFF" stroke-width="4" stroke-linecap="round" stroke-linejoin="round" />
<rect x="1471.9" y="757.9" width="65.3" height="84.1" rx="1" fill="none" stroke="#FFFFFF" stroke-width="4"/>
<path d="M1473.6,760.2 L1483,771 Q1486,772.8 1490,772.8 L1519,772.8 Q1523,772.8 1526,771 L1535.5,760.2" fill="none" stroke="#FFFFFF" stroke-width="4" stroke-linecap="round" stroke-linejoin="round" />
<path d="M1504.4,772.8 L1504.4,831.1" fill="none" stroke="#FFFFFF" stroke-width="4" stroke-linecap="round" stroke-linejoin="round" />
<path d="M1472.5,841 L1480.2,831.1 L1528.6,831.1 L1536.5,841" fill="none" stroke="#FFFFFF" stroke-width="4" stroke-linecap="round" stroke-linejoin="round" />
<circle cx="1498.8" cy="1194.4" r="27.4" fill="none" stroke="#02373C" stroke-width="3.8"/>
<path d="M1519.5,1215.5 L1540.5,1236" fill="none" stroke="#02373C" stroke-width="3.8" stroke-linecap="round" stroke-linejoin="round" />
<path d="M1141.5,1500.3 L1155.3,1500.3 L1155.3,1570.2 L1141.5,1570.2 Z" fill="none" stroke="#02373C" stroke-width="2.7" stroke-linecap="round" stroke-linejoin="round" />
<path d="M1155.3,1490.2 L1176.5,1490.2 L1176.5,1570.2 L1155.3,1570.2 Z" fill="none" stroke="#02373C" stroke-width="2.7" stroke-linecap="round" stroke-linejoin="round" />
<path d="M1176.5,1517.7 L1197.3,1517.7 L1197.3,1570.2 L1176.5,1570.2 Z" fill="none" stroke="#02373C" stroke-width="2.7" stroke-linecap="round" stroke-linejoin="round" />
<path d="M1148.4,1511 L1148.4,1559 M1166,1497.5 L1166,1541 M1186.9,1525.5 L1186.9,1555.5 M1183.3,1563.3 L1190.2,1563.3" fill="none" stroke="#02373C" stroke-width="2.7" stroke-linecap="round" stroke-linejoin="round" />
<path d="M1163.5,1550 L1168.3,1550 L1168.3,1562 L1163.5,1562 Z" fill="none" stroke="#02373C" stroke-width="2.7" stroke-linecap="round" stroke-linejoin="round" />
<path d="M1194.3,1503.4 L1203.6,1500.9 L1221,1568 L1211.7,1570.5 Z" fill="none" stroke="#02373C" stroke-width="2.8" stroke-linecap="round" stroke-linejoin="round" />
<path d="M1513.9,1479 L1477.6,1479 Q1473.6,1479 1473.6,1483 L1473.6,1547 Q1473.6,1551 1477.6,1551 L1539.2,1551 L1539.2,1479 L1528.4,1479" fill="none" stroke="#FFFFFF" stroke-width="3.4" stroke-linecap="round" stroke-linejoin="round" />
<path d="M1484.5,1479 L1484.5,1551" fill="none" stroke="#FFFFFF" stroke-width="3.4" stroke-linecap="round" stroke-linejoin="round" />
<path d="M1513.9,1479 L1513.9,1471.8 L1528.4,1471.8 L1528.4,1508.6 L1521.2,1501.5 L1513.9,1508.6 Z" fill="none" stroke="#FFFFFF" stroke-width="3.4" stroke-linecap="round" stroke-linejoin="round" />
<path d="M1514.4,1804.2 C1505,1797 1492,1794 1473.9,1794.2 L1473.9,1855 C1492,1855 1506,1859 1514.4,1867.1 C1523,1859 1537,1855 1554.9,1855 L1554.9,1794.2 C1537,1794 1524,1797 1514.4,1804.2 Z" fill="none" stroke="#02373C" stroke-width="3" stroke-linecap="round" stroke-linejoin="round" />
<path d="M1514.4,1804.2 L1514.4,1867.5" fill="none" stroke="#02373C" stroke-width="3" stroke-linecap="round" stroke-linejoin="round" />
<path d="M1481.3,1810.5 Q1494,1811.3 1505.3,1816.1" fill="none" stroke="#02373C" stroke-width="3" stroke-linecap="round" stroke-linejoin="round" />
<path d="M1481.3,1821.7 Q1494,1822.5 1505.3,1827.3" fill="none" stroke="#02373C" stroke-width="3" stroke-linecap="round" stroke-linejoin="round" />
<path d="M1481.3,1832.9 Q1494,1833.7 1505.3,1838.5" fill="none" stroke="#02373C" stroke-width="3" stroke-linecap="round" stroke-linejoin="round" />
<path d="M1481.3,1843.8 Q1494,1844.6 1505.3,1849.3999999999999" fill="none" stroke="#02373C" stroke-width="3" stroke-linecap="round" stroke-linejoin="round" />
<path d="M1523.6,1837.5 Q1534,1833.3 1547.6,1832.5" fill="none" stroke="#02373C" stroke-width="3" stroke-linecap="round" stroke-linejoin="round" />
<path d="M1523.6,1848.3 Q1534,1844.1 1547.6,1843.3" fill="none" stroke="#02373C" stroke-width="3" stroke-linecap="round" stroke-linejoin="round" />
<path d="M1533,1796.5 L1533,1826 L1540.3,1818 L1547.6,1826 L1547.6,1795.5" fill="none" stroke="#02373C" stroke-width="3" stroke-linecap="round" stroke-linejoin="round" />
<text x="423.20" y="225.60" font-size="20" fill="#02373C" textLength="108.80" lengthAdjust="spacingAndGlyphs">ENVÍA UNA</text>
<text x="414.00" y="250.00" font-size="20" fill="#02373C" textLength="127.10" lengthAdjust="spacingAndGlyphs">SOLICITIDUD</text>
<text x="946.90" y="226.50" font-size="20" fill="#02373C" textLength="120.80" lengthAdjust="spacingAndGlyphs">ES RECIBIDA</text>
<text x="985.80" y="250.60" font-size="20" fill="#02373C" textLength="41.90" lengthAdjust="spacingAndGlyphs">POR</text>
<text x="1279.50" y="536.20" font-size="20" fill="#02373C" textLength="76.60" lengthAdjust="spacingAndGlyphs">TIPO DE</text>
<text x="1270.60" y="560.60" font-size="20" fill="#02373C" textLength="94.00" lengthAdjust="spacingAndGlyphs">PETICIÓN</text>
<text x="469.00" y="808.20" font-size="20" fill="#02373C" textLength="136.10" lengthAdjust="spacingAndGlyphs">SE RESPONDE</text>
<text x="459.20" y="832.00" font-size="20" fill="#02373C" textLength="155.70" lengthAdjust="spacingAndGlyphs">AL INTERESADO</text>
<text x="468.50" y="1002.20" font-size="20" fill="#8FA7A3" textLength="139.00" lengthAdjust="spacingAndGlyphs">SE COMUNICA</text>
<text x="459.20" y="1026.00" font-size="20" fill="#8FA7A3" textLength="155.70" lengthAdjust="spacingAndGlyphs">AL INTERESADO</text>
<text x="1452.80" y="994.30" font-size="20" fill="#02373C" textLength="105.00" lengthAdjust="spacingAndGlyphs">SE ADMITE</text>
<text x="1452.80" y="1018.20" font-size="20" fill="#02373C" textLength="105.00" lengthAdjust="spacingAndGlyphs">A TRÁMITE</text>
<text x="1749.20" y="819.60" font-size="20" fill="#02373C" textLength="140.40" lengthAdjust="spacingAndGlyphs">NO SE ADMITE</text>
<text x="1767.00" y="843.80" font-size="20" fill="#02373C" textLength="104.00" lengthAdjust="spacingAndGlyphs">A TRÁMITE</text>
<text x="468.50" y="1222.00" font-size="20" fill="#8FA7A3" textLength="139.00" lengthAdjust="spacingAndGlyphs">SE COMUNICA</text>
<text x="459.20" y="1245.80" font-size="20" fill="#8FA7A3" textLength="155.70" lengthAdjust="spacingAndGlyphs">AL INTERESADO</text>
<text x="468.50" y="1552.20" font-size="20" fill="#02373C" textLength="139.00" lengthAdjust="spacingAndGlyphs">SE COMUNICA</text>
<text x="459.20" y="1576.00" font-size="20" fill="#02373C" textLength="155.70" lengthAdjust="spacingAndGlyphs">AL INTERESADO</text>
<text x="468.50" y="1852.20" font-size="20" fill="#02373C" textLength="139.00" lengthAdjust="spacingAndGlyphs">SE COMUNICA</text>
<text x="459.20" y="1876.00" font-size="20" fill="#02373C" textLength="155.70" lengthAdjust="spacingAndGlyphs">AL INTERESADO</text>
<text x="468.50" y="2076.40" font-size="20" fill="#02373C" textLength="139.00" lengthAdjust="spacingAndGlyphs">SE COMUNICA</text>
<text x="460.20" y="2100.00" font-size="20" fill="#02373C" textLength="154.70" lengthAdjust="spacingAndGlyphs">AL INTERESADO</text>
<text x="91.00" y="326.00" font-size="29" fill="#FFFFFF" textLength="215.80" lengthAdjust="spacingAndGlyphs">EL INTERESADO</text>
<text x="696.20" y="294.40" font-size="19.5" fill="#FFFFFF" textLength="131.80" lengthAdjust="spacingAndGlyphs">CANAL ÉTICO</text>
<text x="1240.60" y="301.50" font-size="28" fill="#FFFFFF" textLength="178.40" lengthAdjust="spacingAndGlyphs">EL GABINETE</text>
<text x="1204.40" y="335.20" font-size="28" fill="#FFFFFF" textLength="258.60" lengthAdjust="spacingAndGlyphs">DE CUMPLIMIENTO</text>
<text x="114.10" y="657.80" font-size="29" fill="#FFFFFF" textLength="159.80" lengthAdjust="spacingAndGlyphs">RESPUESTA</text>
<text x="1078.70" y="889.60" font-size="19.5" fill="#FFFFFF" textLength="105.60" lengthAdjust="spacingAndGlyphs">CONSULTA</text>
<text x="1450.00" y="889.60" font-size="19.5" fill="#FFFFFF" textLength="105.90" lengthAdjust="spacingAndGlyphs">DENUNCIA</text>
<text x="1399.00" y="1285.70" font-size="29" fill="#FFFFFF" textLength="215.70" lengthAdjust="spacingAndGlyphs">INVESTIGACIÓN</text>
<text x="1444.50" y="1601.60" font-size="19.5" fill="#FFFFFF" textLength="129.70" lengthAdjust="spacingAndGlyphs">RESOLUCIÓN</text>
<text x="1115.40" y="1627.60" font-size="29" fill="#FFFFFF" textLength="124.40" lengthAdjust="spacingAndGlyphs">ARCHIVO</text>
<text x="1451.40" y="1923.80" font-size="29" fill="#FFFFFF" textLength="124.80" lengthAdjust="spacingAndGlyphs">MEDIDAS</text>
</svg></div></body></html>
